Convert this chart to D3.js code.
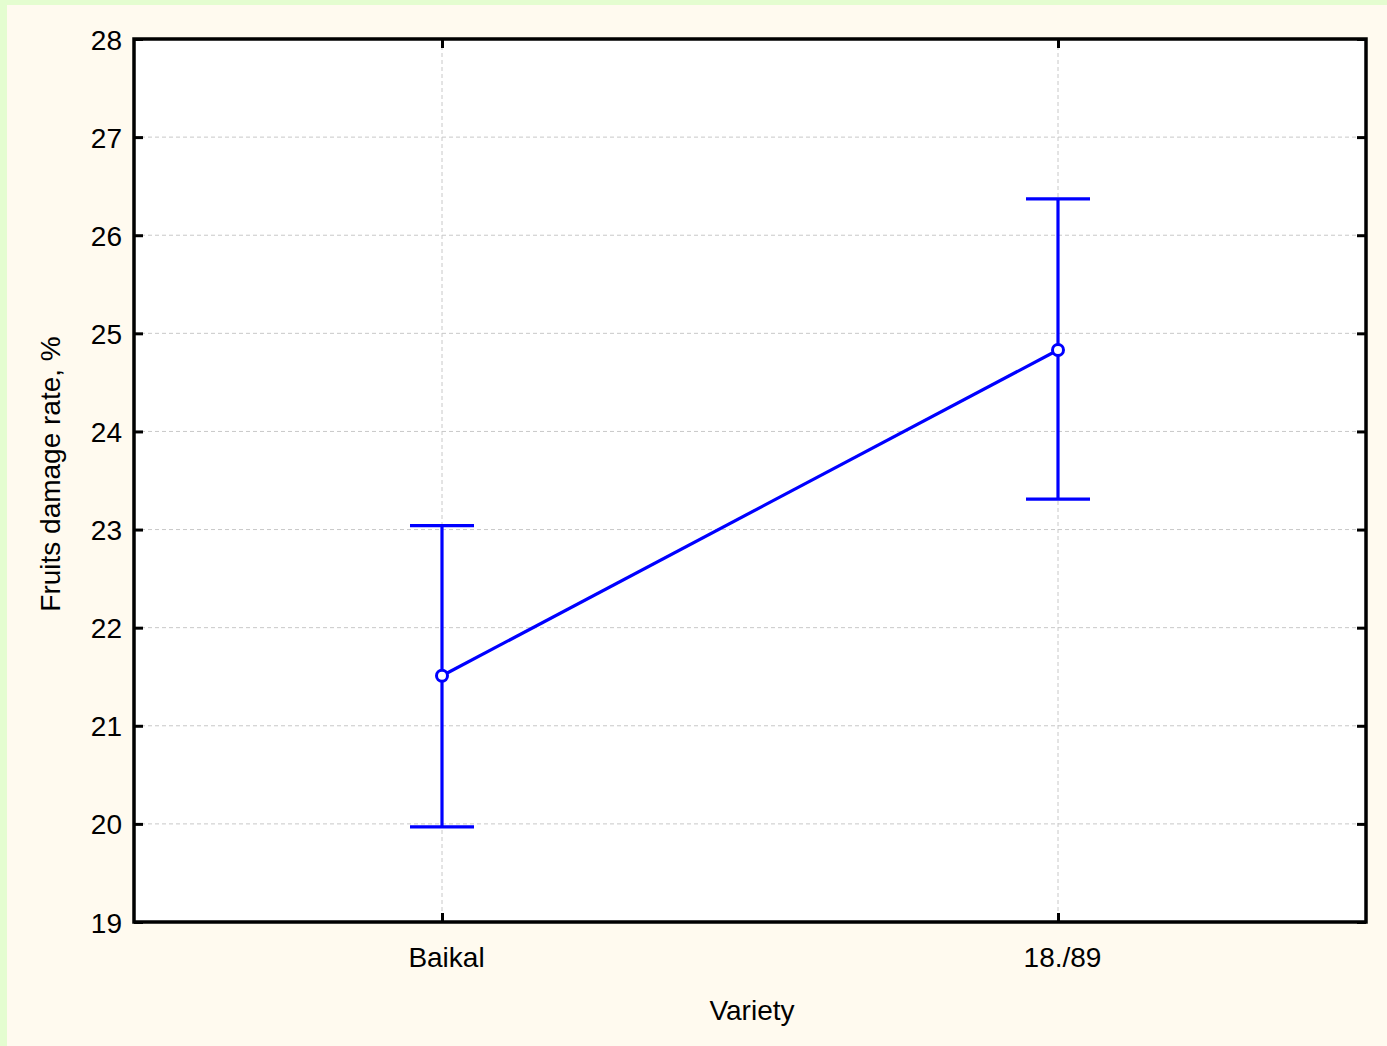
<!DOCTYPE html>
<html>
<head>
<meta charset="utf-8">
<script src="https://cdn.jsdelivr.net/npm/d3@7"></script>
<style>
  html, body { margin: 0; padding: 0; background: #e4fdd0; }
  svg { display: block; }
  text { font-family: "Liberation Sans", Arial, sans-serif; fill: #000; }
</style>
</head>
<body>
<script>
const categories = ["Baikal", "18./89"];
const means = [21.51, 24.83];
const upper = [23.04, 26.37];
const lower = [19.97, 23.31];
const yTicks = [19, 20, 21, 22, 23, 24, 25, 26, 27, 28];
const xLabel = "Variety";
const yLabel = "Fruits damage rate, %";

const W = 1387, H = 1046;
const FS = "28px";
const svg = d3.select("body").append("svg").attr("width", W).attr("height", H);

// backgrounds
svg.append("rect").attr("x", 0).attr("y", 0).attr("width", W).attr("height", H).attr("fill", "#e4fdd0");
svg.append("rect").attr("x", 7).attr("y", 5).attr("width", W - 7).attr("height", H - 5).attr("fill", "#fffaef");

const L = 134, R = 1366, T = 39, B = 922;
svg.append("rect").attr("x", L).attr("y", T).attr("width", R - L).attr("height", B - T).attr("fill", "#fff");

const x = d3.scaleLinear().domain([0.5, categories.length + 0.5]).range([L, R]);
const y = d3.scaleLinear().domain([19, 28]).range([B, T]);

// grid
const grid = svg.append("g");
yTicks.forEach(t => {
  if (t === 19 || t === 28) return;
  grid.append("line").attr("x1", L).attr("x2", R).attr("y1", y(t)).attr("y2", y(t))
    .attr("stroke", "#c8c8c8").attr("stroke-width", 1).attr("stroke-dasharray", "4,3");
});
categories.forEach((c, i) => {
  grid.append("line").attr("x1", x(i + 1)).attr("x2", x(i + 1)).attr("y1", T).attr("y2", B)
    .attr("stroke", "#c8c8c8").attr("stroke-width", 1).attr("stroke-dasharray", "4,3");
});

// axes with inward ticks
const yAxisL = d3.axisLeft(y).tickValues(yTicks).tickSize(-9).tickFormat(d3.format("d"));
const gL = svg.append("g").attr("transform", `translate(${L},0)`).call(yAxisL);
gL.attr("font-size", null).attr("font-family", null);
gL.selectAll("text").style("font-size", FS).attr("x", -12).attr("dy", "0.36em");

const yAxisR = d3.axisRight(y).tickValues(yTicks).tickSize(-9).tickFormat("");
const gR = svg.append("g").attr("transform", `translate(${R},0)`).call(yAxisR);

const xAxisB = d3.axisBottom(x).tickValues(categories.map((c, i) => i + 1)).tickSize(-9)
  .tickFormat((d) => categories[d - 1]);
const gB = svg.append("g").attr("transform", `translate(0,${B})`).call(xAxisB);
gB.attr("font-size", null).attr("font-family", null);
gB.selectAll("text").style("font-size", FS).attr("y", 45).attr("dy", "0").attr("dx", 4);

const xAxisT = d3.axisTop(x).tickValues(categories.map((c, i) => i + 1)).tickSize(-9).tickFormat("");
const gT = svg.append("g").attr("transform", `translate(0,${T})`).call(xAxisT);

[gL, gR, gB, gT].forEach(g => {
  g.select(".domain").remove();
  g.selectAll(".tick line").attr("stroke", "#000").attr("stroke-width", 3);
});

// frame
svg.append("rect").attr("x", L).attr("y", T).attr("width", R - L).attr("height", B - T)
  .attr("fill", "none").attr("stroke", "#000").attr("stroke-width", 3.5);

// error bars
const blue = "#0000ff";
const eb = svg.append("g");
categories.forEach((c, i) => {
  const cx = x(i + 1);
  eb.append("line").attr("x1", cx).attr("x2", cx).attr("y1", y(lower[i])).attr("y2", y(upper[i]))
    .attr("stroke", blue).attr("stroke-width", 3.2);
  [lower[i], upper[i]].forEach(v => {
    eb.append("line").attr("x1", cx - 32).attr("x2", cx + 32).attr("y1", y(v)).attr("y2", y(v))
      .attr("stroke", blue).attr("stroke-width", 3.2);
  });
});

// mean line
const line = d3.line().x((d, i) => x(i + 1)).y(d => y(d));
svg.append("path").datum(means).attr("d", line).attr("fill", "none").attr("stroke", blue).attr("stroke-width", 3.2);

svg.append("g").selectAll("circle").data(means).join("circle")
  .attr("cx", (d, i) => x(i + 1)).attr("cy", d => y(d)).attr("r", 5.5)
  .attr("fill", "#fff").attr("stroke", blue).attr("stroke-width", 3);

// axis titles
svg.append("text").attr("x", (L + R) / 2 + 2).attr("y", 1020).attr("text-anchor", "middle")
  .style("font-size", FS).text(xLabel);
svg.append("text").attr("transform", `translate(60,474) rotate(-90)`)
  .attr("text-anchor", "middle").style("font-size", FS).text(yLabel);
</script>
</body>
</html>
